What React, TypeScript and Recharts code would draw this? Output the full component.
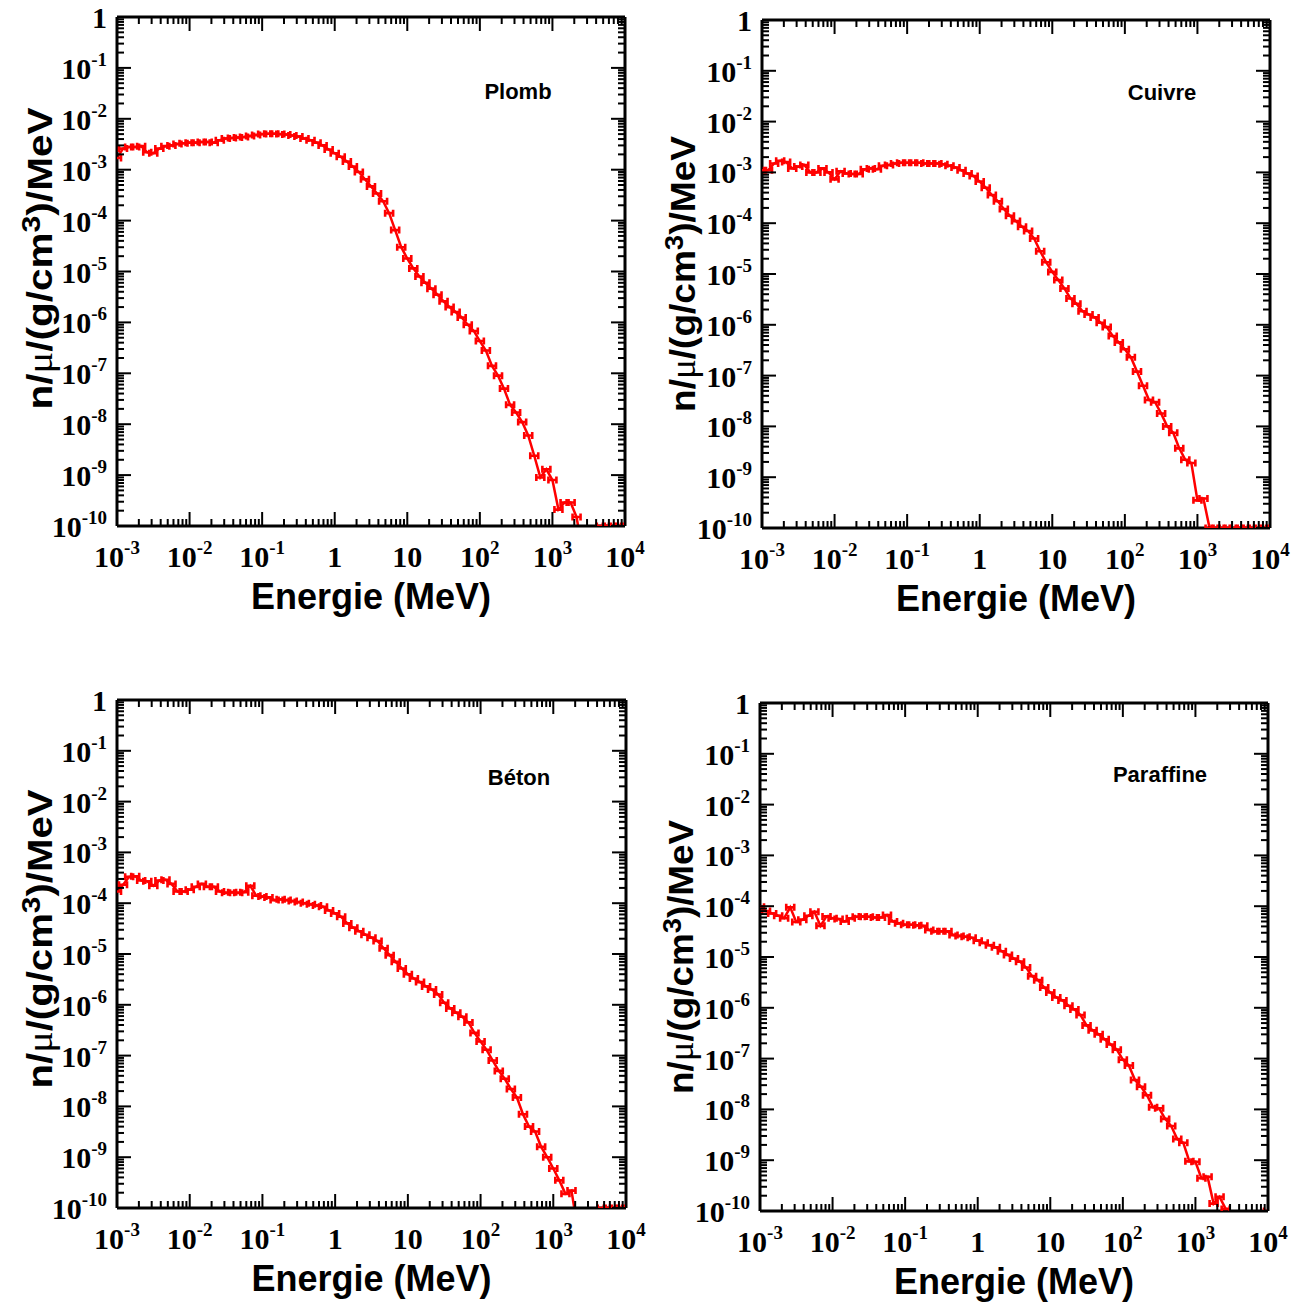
import React from 'react';
import { LineChart, Line, XAxis, YAxis } from 'recharts';

// energy bins (MeV), 12 per decade
const energies = [
  1.0e-3, 1.21e-3, 1.47e-3, 1.78e-3, 2.15e-3, 2.61e-3, 3.16e-3, 3.83e-3, 4.64e-3, 5.62e-3, 6.81e-3, 8.25e-3,
  1.0e-2, 1.21e-2, 1.47e-2, 1.78e-2, 2.15e-2, 2.61e-2, 3.16e-2, 3.83e-2, 4.64e-2, 5.62e-2, 6.81e-2, 8.25e-2,
  1.0e-1, 1.21e-1, 1.47e-1, 1.78e-1, 2.15e-1, 2.61e-1, 3.16e-1, 3.83e-1, 4.64e-1, 5.62e-1, 6.81e-1, 8.25e-1,
  1.0, 1.21, 1.47, 1.78, 2.15, 2.61, 3.16, 3.83, 4.64, 5.62, 6.81, 8.25,
  10, 12.1, 14.7, 17.8, 21.5, 26.1, 31.6, 38.3, 46.4, 56.2, 68.1, 82.5,
  100, 121, 147, 178, 215, 261, 316, 383, 464, 562, 681, 825,
  1000, 1210, 1470, 1780, 2150, 2610, 3160, 3830, 4640, 5620, 6810, 8250,
  10000,
];

const plomb = [
  1.7e-3, 2.6e-3, 2.8e-3, 2.8e-3, 2.9e-3, 2.2e-3, 2.1e-3, 2.6e-3, 2.9e-3, 3.0e-3, 3.2e-3, 3.3e-3,
  3.4e-3, 3.4e-3, 3.5e-3, 3.5e-3, 3.4e-3, 3.8e-3, 4.1e-3, 4.2e-3, 4.3e-3, 4.4e-3, 4.6e-3, 4.8e-3,
  5.0e-3, 5.1e-3, 5.1e-3, 5.0e-3, 4.9e-3, 4.7e-3, 4.5e-3, 4.1e-3, 3.8e-3, 3.4e-3, 3.0e-3, 2.5e-3,
  2.1e-3, 1.8e-3, 1.45e-3, 1.15e-3, 9.0e-4, 6.5e-4, 4.7e-4, 3.4e-4, 2.4e-4, 1.4e-4, 6.5e-5, 3.0e-5,
  1.8e-5, 1.15e-5, 8.0e-6, 6.0e-6, 4.6e-6, 3.5e-6, 2.6e-6, 2.0e-6, 1.6e-6, 1.25e-6, 9.0e-7, 6.8e-7,
  4.3e-7, 2.8e-7, 1.4e-7, 9.0e-8, 5.0e-8, 2.4e-8, 1.7e-8, 1.1e-8, 6.0e-9, 2.4e-9, 9.0e-10, 1.3e-9,
  8.0e-10, 2.1e-10, 2.9e-10, 2.9e-10, 1.5e-10, 3e-11, null, null, 1e-10, 1e-10, 1e-10, 1e-10,
  1e-10,
];

const cuivre = [
  1.1e-3, 1.1e-3, 1.5e-3, 1.7e-3, 1.6e-3, 1.2e-3, 1.3e-3, 1.4e-3, 1.0e-3, 1.0e-3, 1.2e-3, 1.0e-3,
  7.3e-4, 1.05e-3, 9.5e-4, 9.3e-4, 9.3e-4, 1.15e-3, 1.2e-3, 1.15e-3, 1.35e-3, 1.4e-3, 1.5e-3, 1.55e-3,
  1.55e-3, 1.55e-3, 1.55e-3, 1.5e-3, 1.5e-3, 1.5e-3, 1.45e-3, 1.35e-3, 1.25e-3, 1.1e-3, 9.5e-4, 8.5e-4,
  6.6e-4, 5.0e-4, 3.6e-4, 2.7e-4, 1.9e-4, 1.4e-4, 1.1e-4, 8.5e-5, 7.0e-5, 5.0e-5, 2.8e-5, 1.7e-5,
  1.1e-5, 7.6e-6, 5.2e-6, 3.3e-6, 2.6e-6, 1.85e-6, 1.6e-6, 1.4e-6, 1.1e-6, 9.0e-7, 6.0e-7, 4.5e-7,
  3.3e-7, 2.3e-7, 1.2e-7, 6.3e-8, 3.3e-8, 3.0e-8, 1.8e-8, 1.0e-8, 7.5e-9, 3.7e-9, 2.2e-9, 1.9e-9,
  3.5e-10, 3.8e-10, 1e-10, 1e-10, 1e-10, 1e-10, 1e-10, 1e-10, 1e-10, 1e-10, 1e-10, 1e-10,
  1e-10,
];

const beton = [
  1.7e-4, 2.3e-4, 3.3e-4, 3.4e-4, 2.8e-4, 2.7e-4, 2.2e-4, 2.8e-4, 2.9e-4, 2.4e-4, 1.7e-4, 1.7e-4,
  1.85e-4, 2.1e-4, 2.4e-4, 2.1e-4, 2.1e-4, 1.7e-4, 1.6e-4, 1.65e-4, 1.6e-4, 1.65e-4, 2.2e-4, 1.4e-4,
  1.35e-4, 1.3e-4, 1.15e-4, 1.2e-4, 1.15e-4, 1.1e-4, 1.05e-4, 1.0e-4, 9.5e-5, 9.0e-5, 8.5e-5, 7.2e-5,
  6.3e-5, 5.4e-5, 4.0e-5, 3.3e-5, 2.8e-5, 2.4e-5, 2.1e-5, 1.8e-5, 1.3e-5, 9.5e-6, 7.0e-6, 5.2e-6,
  4.0e-6, 3.3e-6, 2.8e-6, 2.3e-6, 2.0e-6, 1.6e-6, 1.1e-6, 8.5e-7, 7.0e-7, 5.8e-7, 4.5e-7, 2.8e-7,
  1.9e-7, 1.3e-7, 8.0e-8, 5.0e-8, 3.5e-8, 2.2e-8, 1.5e-8, 7.0e-9, 4.0e-9, 3.2e-9, 1.6e-9, 1.0e-9,
  6.0e-10, 3.5e-10, 1.9e-10, 2.2e-10, 4e-11, null, null, null, 1e-10, 1e-10, 1e-10, 1e-10,
  1e-10,
];

const paraffine = [
  9.8e-5, 8.0e-5, 7.2e-5, 6.5e-5, 5.8e-5, 9.5e-5, 4.9e-5, 5.4e-5, 6.5e-5, 7.8e-5, 4.1e-5, 6.3e-5,
  5.8e-5, 5.6e-5, 5.0e-5, 5.8e-5, 6.2e-5, 6.3e-5, 6.2e-5, 6.0e-5, 6.0e-5, 6.7e-5, 5.0e-5, 4.6e-5,
  4.3e-5, 4.3e-5, 4.2e-5, 4.1e-5, 3.4e-5, 3.2e-5, 3.2e-5, 3.2e-5, 2.7e-5, 2.6e-5, 2.5e-5, 2.4e-5,
  2.1e-5, 1.9e-5, 1.7e-5, 1.55e-5, 1.3e-5, 1.1e-5, 9.3e-6, 8.1e-6, 6.2e-6, 4.2e-6, 3.5e-6, 2.5e-6,
  2.0e-6, 1.6e-6, 1.4e-6, 1.1e-6, 9.3e-7, 7.2e-7, 4.5e-7, 3.6e-7, 3.0e-7, 2.4e-7, 1.9e-7, 1.5e-7,
  9.5e-8, 7.3e-8, 3.8e-8, 2.8e-8, 1.9e-8, 1.1e-8, 1.05e-8, 6.5e-9, 4.7e-9, 2.6e-9, 2.2e-9, 9.5e-10,
  9.3e-10, 4.4e-10, 4.7e-10, 1.4e-10, 1.9e-10, 1.1e-10, null, null, null, null, null, null,
  1e-10,
];

const xMajorTicks = [1e-3, 1e-2, 1e-1, 1, 10, 100, 1e3, 1e4];
const xTickLabels: [string, string][] = [
  ['10', '-3'], ['10', '-2'], ['10', '-1'], ['1', ''], ['10', ''], ['10', '2'], ['10', '3'], ['10', '4'],
];
const yMajorTicks = [1, 1e-1, 1e-2, 1e-3, 1e-4, 1e-5, 1e-6, 1e-7, 1e-8, 1e-9, 1e-10];
const yTickLabels: [string, string][] = [
  ['1', ''], ['10', '-1'], ['10', '-2'], ['10', '-3'], ['10', '-4'], ['10', '-5'],
  ['10', '-6'], ['10', '-7'], ['10', '-8'], ['10', '-9'], ['10', '-10'],
];

// minor ticks at 2..9 inside each decade
function withMinors(majors: number[]) {
  const sorted = [...majors].sort((a, b) => a - b);
  const out: number[] = [...sorted];
  for (let i = 0; i < sorted.length - 1; i++) {
    for (let m = 2; m <= 9; m++) out.push(sorted[i] * m);
  }
  return out.sort((a, b) => a - b);
}
const xTicks = withMinors(xMajorTicks);
const yTicks = withMinors(yMajorTicks);

const majorIndex = (majors: number[], v: number) =>
  majors.findIndex((m) => Math.abs(Math.log10(m) - Math.log10(v)) < 1e-6);

const SERIF = "'Liberation Serif', 'Times New Roman', serif";
const SANS = "'Liberation Sans', Arial, sans-serif";
const MAJOR = 14;
const MINOR = 7;

function TickText({ x, y, anchor, label }: { x: number; y: number; anchor: 'middle' | 'end'; label: [string, string] }) {
  const [base, exp] = label;
  return (
    <text x={x} y={y} textAnchor={anchor} fontFamily={SERIF} fontWeight="bold" fontSize={30} fill="#000">
      {base}
      {exp && (
        <tspan dy={-13} fontSize={19}>
          {exp}
        </tspan>
      )}
    </text>
  );
}

const BottomTick = (p: any) => {
  const i = majorIndex(xMajorTicks, p.payload.value);
  return (
    <g>
      <line x1={p.x} x2={p.x} y1={p.y} y2={p.y - (i >= 0 ? MAJOR : MINOR)} stroke="#000" strokeWidth={2} />
      {i >= 0 && <TickText x={p.x} y={p.y + 41} anchor="middle" label={xTickLabels[i]} />}
    </g>
  );
};

const TopTick = (p: any) => {
  const i = majorIndex(xMajorTicks, p.payload.value);
  return <line x1={p.x} x2={p.x} y1={p.y} y2={p.y + (i >= 0 ? MAJOR : MINOR)} stroke="#000" strokeWidth={2} />;
};

const LeftTick = (p: any) => {
  const i = majorIndex(yMajorTicks, p.payload.value);
  return (
    <g>
      <line x1={p.x} x2={p.x + (i >= 0 ? MAJOR : MINOR)} y1={p.y} y2={p.y} stroke="#000" strokeWidth={2} />
      {i >= 0 && <TickText x={p.x - 10} y={p.y + 11} anchor="end" label={yTickLabels[i]} />}
    </g>
  );
};

const RightTick = (p: any) => {
  const i = majorIndex(yMajorTicks, p.payload.value);
  return <line x1={p.x} x2={p.x - (i >= 0 ? MAJOR : MINOR)} y1={p.y} y2={p.y} stroke="#000" strokeWidth={2} />;
};

const renderMarker = (p: any) => {
  const { cx, cy, index, value } = p;
  if (value == null || cx == null || cy == null || isNaN(cy)) return <g key={index} />;
  return (
    <path
      key={index}
      d={`M${cx - 4},${cy - 3.5}v7M${cx + 4},${cy - 3.5}v7M${cx - 4},${cy}h8`}
      stroke="#ff0000"
      strokeWidth={2.6}
      fill="none"
    />
  );
};

interface PanelProps {
  left: number;
  top: number;
  height: number;
  plot: { l: number; t: number; r: number; b: number };
  values: (number | null)[];
  name: string;
  nameX: number;
  nameY: number;
  yTitle: { len: number; shift: number; gap: number };
}

const W = 650;

function Panel({ left, top, height, plot, values, name, nameX, nameY, yTitle }: PanelProps) {
  const data = energies.map((e, i) => ({ e, v: values[i] }));
  const margin = {
    left: plot.l - left - 100,
    top: plot.t - top - 1,
    right: left + W - plot.r - 1,
    bottom: top + height - plot.b - 90,
  };
  // plot area in chart-local coordinates
  const pl = plot.l - left;
  const pt = plot.t - top;
  const pr = plot.r - left;
  const pb = plot.b - top;
  const axisLine = { stroke: '#000', strokeWidth: 3 };
  const common = {
    type: 'number' as const,
    scale: 'log' as const,
    allowDataOverflow: true,
    interval: 0 as const,
    tickLine: false,
    tickSize: 0,
    tickMargin: 0,
    axisLine,
  };
  return (
    <div style={{ position: 'absolute', left, top }}>
      <LineChart width={W} height={height} data={data} margin={margin}>
        <XAxis xAxisId="b" dataKey="e" domain={[1e-3, 1e4]} ticks={xTicks} tick={BottomTick} height={90} {...common} />
        <XAxis xAxisId="t" dataKey="e" orientation="top" domain={[1e-3, 1e4]} ticks={xTicks} tick={TopTick} height={1} {...common} />
        <YAxis yAxisId="l" domain={[1e-10, 1]} ticks={yTicks} tick={LeftTick} width={100} {...common} />
        <YAxis yAxisId="r" orientation="right" domain={[1e-10, 1]} ticks={yTicks} tick={RightTick} width={1} {...common} />
        <Line
          xAxisId="t"
          yAxisId="r"
          dataKey="v"
          stroke="none"
          dot={false}
          activeDot={false}
          isAnimationActive={false}
        />
        <Line
          xAxisId="b"
          yAxisId="l"
          dataKey="v"
          type="linear"
          stroke="#ff0000"
          strokeWidth={2.5}
          dot={renderMarker}
          activeDot={false}
          isAnimationActive={false}
        />
        <text x={nameX - left} y={nameY - top} textAnchor="middle" fontFamily={SANS} fontWeight="bold" fontSize={22} fill="#000">
          {name}
        </text>
        <text x={(pl + pr) / 2} y={pb + 83} textAnchor="middle" fontFamily={SANS} fontWeight="bold" fontSize={36} fill="#000">
          Energie (MeV)
        </text>
        <text
          transform={`translate(${pl - yTitle.gap},${(pt + pb) / 2 + yTitle.shift}) rotate(-90)`}
          textAnchor="middle"
          textLength={yTitle.len}
          lengthAdjust="spacingAndGlyphs"
          fontFamily={SANS}
          fontWeight="bold"
          fontSize={35}
          fill="#000"
        >
          n/
          <tspan fontWeight="normal" fontFamily={SERIF}>
            μ
          </tspan>
          /(g/cm
          <tspan dy={-12} fontSize={26}>
            3
          </tspan>
          <tspan dy={12}>)/MeV</tspan>
        </text>
      </LineChart>
    </div>
  );
}

export default function App() {
  return (
    <div style={{ position: 'absolute', left: 0, top: 0, width: 1299, height: 1304, background: '#fff' }}>
      <Panel left={0} top={0} height={650} plot={{ l: 117, t: 17, r: 625, b: 526 }} values={plomb}
        name="Plomb" nameX={518} nameY={99} yTitle={{ len: 302, shift: -13, gap: 65 }} />
      <Panel left={645} top={0} height={650} plot={{ l: 762, t: 20, r: 1270, b: 528 }} values={cuivre}
        name="Cuivre" nameX={1162} nameY={100} yTitle={{ len: 276, shift: 0, gap: 67 }} />
      <Panel left={0} top={650} height={654} plot={{ l: 117, t: 700, r: 626, b: 1208 }} values={beton}
        name="Béton" nameX={519} nameY={785} yTitle={{ len: 299, shift: -15, gap: 65 }} />
      <Panel left={645} top={650} height={654} plot={{ l: 760, t: 703, r: 1268, b: 1211 }} values={paraffine}
        name="Paraffine" nameX={1160} nameY={782} yTitle={{ len: 274, shift: 0, gap: 67 }} />
    </div>
  );
}
